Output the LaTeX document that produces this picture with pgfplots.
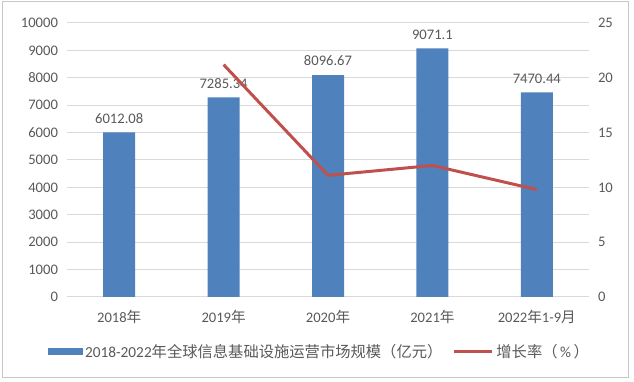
\documentclass[border=0pt]{standalone}
\usepackage{pgfplots}
\pgfplotsset{compat=1.18}
\usepackage{fontspec}
\setmainfont{Carlito}
\newfontfamily\cjk{Noto Sans CJK SC}
\definecolor{barblue}{HTML}{4F81BD}
\definecolor{linered}{HTML}{C0504D}
\definecolor{txt}{HTML}{595959}
\definecolor{grd}{HTML}{D9D9D9}
\begin{document}
\fontsize{14.6}{17}\selectfont
\begin{tikzpicture}
\useasboundingbox (0pt,0pt) rectangle (634pt,382pt);
\draw[grd!80!gray, line width=1pt] (2pt,4pt) rectangle (628pt,380pt);
\begin{axis}[
  at={(67pt,85pt)}, anchor=south west,
  scale only axis, width=522pt, height=274pt,
  xmin=-0.5, xmax=4.5, ymin=0, ymax=10000,
  xtick={0,1,2,3,4},
  xticklabels={2018{\cjk 年},2019{\cjk 年},2020{\cjk 年},2021{\cjk 年},2022{\cjk 年}1-9{\cjk 月}},
  ytick distance=1000,
  scaled y ticks=false,
  axis y line*=left, axis x line*=bottom,
  axis line style={draw=none},
  major tick length=0pt,
  ymajorgrids, grid style={grd, line width=1pt},
  tick label style={text=txt, font=\fontsize{14.6}{17}\selectfont},
  /pgf/number format/assume math mode=true,
  /pgf/number format/1000 sep={},
  yticklabel style={xshift=-4pt},
  xticklabel style={yshift=-8pt},
  legend style={at={(0.5,0)}, anchor=center, xshift=-8.5pt, yshift=-55pt,
     draw=none, fill=none, legend columns=2, text=txt,
     font=\fontsize{15.3}{17}\selectfont,
     /tikz/every even column/.append style={column sep=8pt},
     nodes={inner xsep=2.5pt}},
  legend cell align=left,
]
\addplot[ybar, bar width=32pt, fill=barblue, draw=none,
  point meta=explicit symbolic,
  nodes near coords, nodes near coords style={text=txt, font=\fontsize{14.6}{17}\selectfont, yshift=4pt},
  legend image code/.code={\fill[barblue] (0pt,-3.5pt) rectangle (35pt,3.5pt);}]
  coordinates {(0,6012.08) [6012.08] (1,7285.34) [7285.34] (2,8096.67) [8096.67] (3,9071.1) [9071.1] (4,7470.44) [7470.44]};
\addlegendentry{2018-2022{\cjk 年全球信息基础设施运营市场规模（亿元）}}
\addlegendimage{legend image code/.code={\draw[linered, line width=3pt] (0pt,0pt) -- (38pt,0pt);}}
\addlegendentry{{\cjk 增长率（}\,\%\,{\cjk ）}}
\end{axis}
\begin{axis}[
  at={(67pt,85pt)}, anchor=south west,
  scale only axis, width=522pt, height=274pt,
  xmin=-0.5, xmax=4.5, ymin=0, ymax=25,
  ytick distance=5,
  axis y line*=right, hide x axis,
  axis line style={draw=none},
  major tick length=0pt,
  tick label style={text=txt, font=\fontsize{14.6}{17}\selectfont},
  /pgf/number format/assume math mode=true,
  yticklabel style={xshift=4pt},
]
\addplot[linered, line width=3pt, mark=none] coordinates {(1,21.2) (2,11.1) (3,12.0) (4,9.8)};
\end{axis}
\end{tikzpicture}
\end{document}
